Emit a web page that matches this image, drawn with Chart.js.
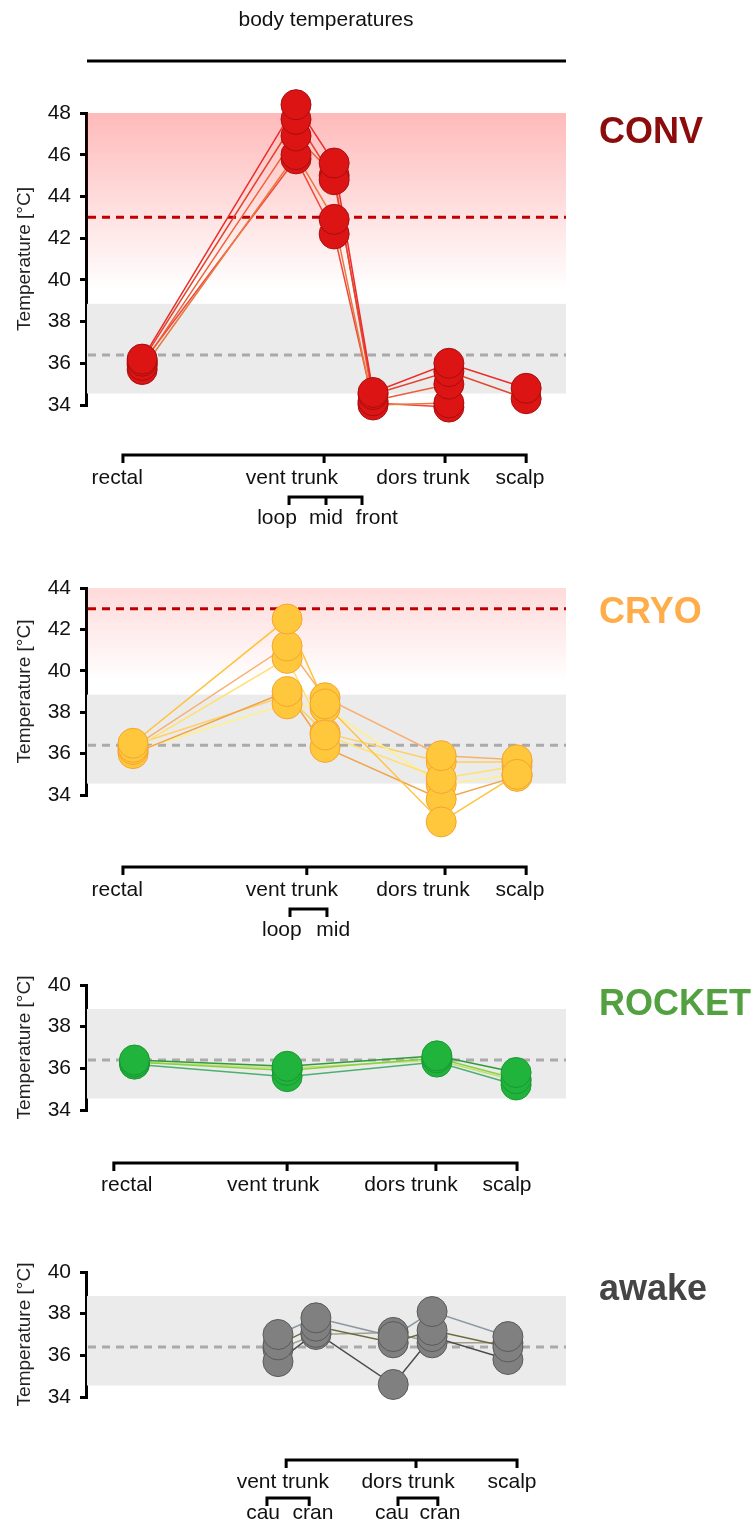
<!DOCTYPE html>
<html>
<head>
<meta charset="utf-8">
<script src="https://cdn.jsdelivr.net/npm/chart.js@4.4.1/dist/chart.umd.min.js"></script>
<style>
  body { margin: 0; background: #fff; width: 753px; height: 1524px; overflow: hidden; position: relative; }
  canvas { position: absolute; left: 0; }
</style>
</head>
<body>
<canvas id="convChart" width="753" height="545" style="top:0"></canvas>
<canvas id="cryoChart" width="753" height="400" style="top:545px"></canvas>
<canvas id="rocketChart" width="753" height="270" style="top:945px"></canvas>
<canvas id="awakeChart" width="753" height="309" style="top:1215px"></canvas>
<script>
// reference ranges (°C)
const normalBand = [34.55, 38.85];
const normalMean = 36.4;
const heatLimit = 43;
const hotRange = [39.5, 48];

// CONV: rectal, vent loop, vent mid, vent front, dors trunk, scalp
const convX = [11.7, 43.75, 51.7, 59.8, 75.6, 91.7];
const convSubjects = [
  [36.2, 48.4, 45.6, 34.6, 36.0, 34.8],
  [36.1, 47.7, 44.8, 34.5, 35.6, 34.3],
  [35.9, 46.9, 45.0, 34.2, 35.0, null],
  [35.7, 46.0, 42.9, 34.0, 34.1, null],
  [36.0, 45.8, 42.2, 34.1, 33.9, null]
];
const convGroups = ['rectal', 'vent trunk', 'dors trunk', 'scalp'];
const convGroupAt = [6.5, 42.9, 70.2, 90.4];
const convBracket = [7.7, 49.6, 74.8, 91.7];
const convSub = ['loop', 'mid', 'front'];
const convSubAt = [39.8, 50, 60.6];
const convSubBrackets = [[42.3, 50, 57.5]];

// CRYO: rectal, vent loop, vent mid, dors trunk, scalp
const cryoX = [9.8, 41.9, 49.8, 74.0, 89.8];
const cryoSubjects = [
  [36.5, 42.5, 38.4, 32.7, 35.0],
  [36.3, 41.2, 38.7, 35.9, 35.7],
  [36.2, 40.6, 36.9, 34.8, 35.4],
  [36.0, 39.0, 36.3, 33.8, 34.9],
  [36.1, 38.4, 38.2, 34.5, 35.0],
  [36.4, 38.8, 37.0, 35.6, 35.6]
];
const cryoGroups = ['rectal', 'vent trunk', 'dors trunk', 'scalp'];
const cryoGroupAt = [6.5, 42.9, 70.2, 90.4];
const cryoBracket = [7.7, 46.0, 74.8, 91.7];
const cryoSub = ['loop', 'mid'];
const cryoSubAt = [40.8, 51.5];
const cryoSubBrackets = [[42.5, 50.2]];

// ROCKET: rectal, vent trunk, dors trunk, scalp
const rocketX = [10.1, 41.9, 73.1, 89.6];
const rocketSubjects = [
  [36.4, 36.1, 36.6, 35.8],
  [36.3, 35.9, 36.5, 35.5],
  [36.2, 35.6, 36.3, 35.2],
  [36.3, 36.0, 36.4, 35.4]
];
const rocketGroups = ['rectal', 'vent trunk', 'dors trunk', 'scalp'];
const rocketGroupAt = [8.5, 39.0, 67.7, 87.7];
const rocketBracket = [5.8, 41.9, 72.9, 89.8];

// awake: vent cau, vent cran, dors cau, dors cran, scalp
const awakeX = [40, 47.9, 64, 72.1, 87.9];
const awakeSubjects = [
  [37.0, 37.8, 36.9, 38.1, 36.9],
  [36.5, 37.4, 36.6, 37.2, 36.4],
  [35.7, 37.1, 34.6, 36.9, 35.8],
  [36.3, 37.0, 37.1, 36.6, 36.6]
];
const awakeGroups = ['vent trunk', 'dors trunk', 'scalp'];
const awakeGroupAt = [41.0, 67.1, 88.75];
const awakeBracket = [41.7, 68.75, 89.8];
const awakeSub = ['cau', 'cran', 'cau', 'cran'];
const awakeSubAt = [36.9, 47.3, 63.75, 73.75];
const awakeSubBrackets = [[37.7, 46.5], [65, 73.3]];

const FONT = '"Liberation Sans", Arial, Helvetica, sans-serif';

// let points below the axis minimum still be drawn
const origPointDraw = Chart.PointElement.prototype.draw;
Chart.PointElement.prototype.draw = function (ctx) {
  origPointDraw.call(this, ctx, undefined);
};

const panelPlugin = {
  id: 'panel',
  beforeDatasetsDraw(chart, args, o) {
    const { ctx, chartArea: a, scales: { y } } = chart;
    ctx.save();
    if (o.hot) {
      const yEnd = y.getPixelForValue(hotRange[0]);
      const g = ctx.createLinearGradient(0, y.getPixelForValue(hotRange[1]), 0, yEnd);
      g.addColorStop(0, 'rgba(255,0,0,0.27)');
      g.addColorStop(1, 'rgba(255,0,0,0)');
      ctx.fillStyle = g;
      ctx.fillRect(a.left + 1, a.top, a.right - a.left - 1, yEnd - a.top);
    }
    const gTop = y.getPixelForValue(normalBand[1]);
    const gBot = y.getPixelForValue(normalBand[0]);
    ctx.fillStyle = '#ebebeb';
    ctx.fillRect(a.left + 1, gTop, a.right - a.left - 1, gBot - gTop);

    ctx.lineWidth = 3;
    ctx.setLineDash([8, 6]);
    ctx.strokeStyle = '#aaaaaa';
    let py = y.getPixelForValue(normalMean);
    ctx.beginPath(); ctx.moveTo(a.left + 2, py); ctx.lineTo(a.right, py); ctx.stroke();
    if (heatLimit <= y.max) {
      ctx.strokeStyle = '#c00000';
      py = y.getPixelForValue(heatLimit);
      ctx.beginPath(); ctx.moveTo(a.left + 2, py); ctx.lineTo(a.right, py); ctx.stroke();
    }
    ctx.restore();
  },
  afterDraw(chart, args, o) {
    const { ctx, chartArea: a, scales: { x } } = chart;
    ctx.save();
    ctx.strokeStyle = '#000';
    ctx.lineWidth = 3;
    ctx.fillStyle = '#111';
    ctx.font = '21px ' + FONT;
    ctx.textAlign = 'center';
    ctx.textBaseline = 'middle';

    const bracket = (ticks, yy) => {
      const xs = ticks.map(v => x.getPixelForValue(v));
      ctx.beginPath();
      ctx.moveTo(xs[0], yy + 8); ctx.lineTo(xs[0], yy);
      ctx.lineTo(xs[xs.length - 1], yy); ctx.lineTo(xs[xs.length - 1], yy + 8);
      xs.slice(1, -1).forEach(px => { ctx.moveTo(px, yy); ctx.lineTo(px, yy + 8); });
      ctx.stroke();
    };

    bracket(o.bracket, a.bottom + o.dy[0]);
    o.groups.forEach((t, i) => ctx.fillText(t, x.getPixelForValue(o.groupAt[i]), a.bottom + o.dy[1]));
    if (o.sub) {
      o.subBrackets.forEach(b => bracket(b, a.bottom + o.dy[2]));
      o.sub.forEach((t, i) => ctx.fillText(t, x.getPixelForValue(o.subAt[i]), a.bottom + o.dy[3]));
    }

    ctx.font = 'bold 36px ' + FONT;
    ctx.textAlign = 'left';
    ctx.fillStyle = o.labelColor;
    ctx.fillText(o.label, a.right + 33, a.top + o.labelDy);

    if (o.title) {
      ctx.fillStyle = '#111';
      ctx.font = '21px ' + FONT;
      ctx.textAlign = 'center';
      ctx.fillText(o.title, (a.left + a.right) / 2, 20);
      ctx.beginPath();
      ctx.moveTo(a.left + 1, 61); ctx.lineTo(a.right, 61);
      ctx.stroke();
    }
    ctx.restore();
  }
};

function buildDatasets(xs, subjects, lineColors, fill, stroke) {
  const lines = subjects.map((vals, i) => ({
    data: xs.map((v, j) => ({ x: v, y: vals[j] })),
    showLine: true,
    spanGaps: false,
    borderColor: lineColors[i % lineColors.length],
    borderWidth: 1.5,
    pointRadius: 0,
    order: 2,
    clip: false
  }));
  const dots = subjects.map(vals => ({
    data: xs.map((v, j) => ({ x: v, y: vals[j] })),
    showLine: false,
    pointRadius: 15,
    pointBackgroundColor: fill,
    pointBorderColor: stroke,
    pointBorderWidth: 1,
    order: 1,
    clip: false
  }));
  return lines.concat(dots);
}

function makeChart(id, cfg) {
  return new Chart(document.getElementById(id), {
    type: 'scatter',
    data: { datasets: buildDatasets(cfg.xs, cfg.subjects, cfg.lineColors, cfg.fill, cfg.stroke) },
    options: {
      responsive: false,
      animation: false,
      events: [],
      layout: { padding: { left: 0, right: 187, top: cfg.padTop, bottom: cfg.padBottom } },
      scales: {
        x: { type: 'linear', min: 0, max: 100, display: false },
        y: {
          min: cfg.yMin, max: cfg.yMax,
          afterFit(s) { s.width = 86; },
          ticks: { stepSize: 2, padding: 9, color: '#111', font: { family: FONT, size: 21 } },
          grid: { drawOnChartArea: false, drawTicks: true, tickLength: 6, color: '#000', lineWidth: 3 },
          border: { display: true, color: '#000', width: 3 },
          title: { display: true, text: 'Temperature [°C]', color: '#222', padding: { top: 13, bottom: 0 }, font: { family: FONT, size: 19, lineHeight: 1.2 } }
        }
      },
      plugins: {
        legend: { display: false },
        tooltip: { enabled: false },
        panel: cfg.panel
      }
    },
    plugins: [panelPlugin]
  });
}

makeChart('convChart', {
  xs: convX, subjects: convSubjects, yMin: 34, yMax: 48, padTop: 113, padBottom: 140,
  lineColors: ['#ee2a2a', '#e0452e', '#f06038', '#e87a40', '#f2453a'],
  fill: '#dc1414', stroke: '#a80e0e',
  panel: {
    hot: true, title: 'body temperatures', label: 'CONV', labelColor: '#8c0c0c', labelDy: 20,
    bracket: convBracket, groups: convGroups, groupAt: convGroupAt,
    sub: convSub, subAt: convSubAt, subBrackets: convSubBrackets, dy: [50, 73, 92, 113]
  }
});

makeChart('cryoChart', {
  xs: cryoX, subjects: cryoSubjects, yMin: 34, yMax: 44, padTop: 43, padBottom: 150,
  lineColors: ['#ffc23a', '#f7b070', '#ffe070', '#f0a448', '#fff08a', '#ffd060'],
  fill: '#ffc83c', stroke: '#f5a431',
  panel: {
    hot: true, label: 'CRYO', labelColor: '#ffad4a', labelDy: 25,
    bracket: cryoBracket, groups: cryoGroups, groupAt: cryoGroupAt,
    sub: cryoSub, subAt: cryoSubAt, subBrackets: cryoSubBrackets, dy: [72, 95, 114, 135]
  }
});

makeChart('rocketChart', {
  xs: rocketX, subjects: rocketSubjects, yMin: 34, yMax: 40, padTop: 40, padBottom: 105,
  lineColors: ['#2e9a3c', '#8ad040', '#4bb070', '#c2e070'],
  fill: '#20b43c', stroke: '#1a9834',
  panel: {
    hot: false, label: 'ROCKET', labelColor: '#52a040', labelDy: 20,
    bracket: rocketBracket, groups: rocketGroups, groupAt: rocketGroupAt, dy: [53, 75]
  }
});

makeChart('awakeChart', {
  xs: awakeX, subjects: awakeSubjects, yMin: 34, yMax: 40, padTop: 57, padBottom: 127,
  lineColors: ['#8a9aa0', '#6b6b40', '#4a4a4a', '#a0a090'],
  fill: '#808080', stroke: '#5a5a5a',
  panel: {
    hot: false, label: 'awake', labelColor: '#454545', labelDy: 18,
    bracket: awakeBracket, groups: awakeGroups, groupAt: awakeGroupAt,
    sub: awakeSub, subAt: awakeSubAt, subBrackets: awakeSubBrackets, dy: [63, 85, 101, 116]
  }
});
</script>
</body>
</html>
